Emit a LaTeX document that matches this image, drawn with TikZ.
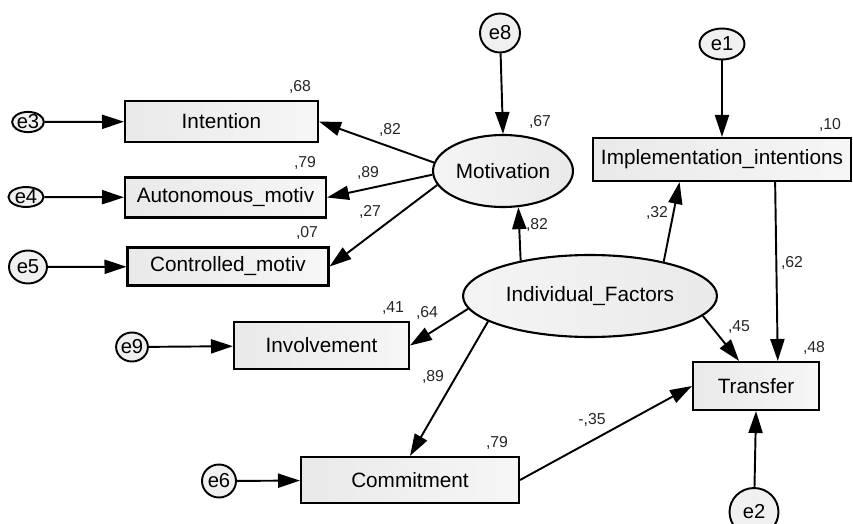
\documentclass[tikz,border=0pt]{standalone}
\usepackage{fontspec}
\setmainfont{Liberation Sans}
\usetikzlibrary{arrows.meta,shapes.geometric}

\begin{document}
\begin{tikzpicture}[x=0.02cm,y=-0.02cm,
        obs/.style={draw,line width=1.2pt,rectangle,inner sep=0pt,left color=gray!17,right color=gray!7,font=\fontsize{11.8}{14}\selectfont},
        lat/.style={draw,line width=1.2pt,ellipse,inner sep=0pt,left color=gray!8,right color=gray!17,font=\fontsize{11.8}{14}\selectfont},
        err/.style={draw,line width=1.1pt,ellipse,inner sep=0pt,fill=gray!12,font=\fontsize{11.5}{13}\selectfont},
        coef/.style={inner sep=0pt,font=\fontsize{9}{11}\selectfont,text=black!85},
        arr/.style={line width=1.1pt,-{Triangle[length=12.5pt,width=8pt]}}]
        \useasboundingbox (0,0) rectangle (853,524);
        % observed
        \node[obs,minimum width=3.86cm,minimum height=0.82cm] (intent) at (221.5,121.5) {Intention};
        \node[obs,minimum width=4.02cm,minimum height=0.80cm] (auto) at (225.5,197.5) {Autonomous\_motiv};
        \node[obs,minimum width=4.02cm,minimum height=0.76cm] (contr) at (228,266.5) {Controlled\_motiv};
        \node[obs,minimum width=5.16cm,minimum height=0.86cm] (impl) at (722,159.5) {Implementation\_intentions};
        \node[obs,minimum width=3.5cm,minimum height=0.94cm] (invol) at (321.5,345.5) {Involvement};
        \node[obs,minimum width=2.52cm,minimum height=0.96cm] (trans) at (756,386) {Transfer};
        \node[obs,minimum width=4.36cm,minimum height=0.92cm] (commit) at (410,480) {Commitment};
        % latent
        \node[lat,minimum width=2.8cm,minimum height=1.44cm] (motiv) at (503,171) {Motivation};
        \node[lat,minimum width=5.08cm,minimum height=1.64cm] (indiv) at (590,296) {Individual\_Factors};
        % errors
        \node[err,minimum width=0.6cm,minimum height=0.4cm] (e3) at (28,122) {e3};
        \node[err,minimum width=0.7cm,minimum height=0.38cm] (e4) at (26,197) {e4};
        \node[err,minimum width=0.76cm,minimum height=0.66cm] (e5) at (28,267) {e5};
        \node[err,minimum width=0.8cm,minimum height=0.78cm] (e8) at (500,33) {e8};
        \node[err,minimum width=0.9cm,minimum height=0.62cm] (e1) at (722,44) {e1};
        \node[err,minimum width=0.62cm,minimum height=0.58cm] (e9) at (132,347) {e9};
        \node[err,minimum width=0.68cm,minimum height=0.66cm] (e6) at (219,481) {e6};
        \node[err,minimum width=0.98cm,minimum height=0.96cm] (e2) at (754,512) {e2};
        % paths
        \draw[arr] (e3) -- (intent);
        \draw[arr] (e4) -- (auto);
        \draw[arr] (e5) -- (contr);
        \draw[arr] (e9) -- (invol);
        \draw[arr] (e6) -- (commit);
        \draw[arr] (e8) -- (motiv.north);
        \draw[arr] (e1) -- (impl);
        \draw[arr] (e2) -- (trans.south);
        \draw[arr] (motiv.173) -- (intent.east); % ,82
        \draw[arr] (motiv.183) -- (auto.east); % ,89
        \draw[arr] (motiv.192) -- (contr.east); % ,27
        \draw[arr] (indiv.153) -- (motiv.293); % ,82
        \draw[arr] (indiv.25) -- (impl.208); % ,32
        \draw[arr] (impl.-23) -- (trans.49); % ,62
        \draw[arr] (indiv.-10) -- (trans.124); % ,45
        \draw[arr] (indiv.186) -- (invol.east); % ,64
        \draw[arr] (indiv.194) -- (commit.north); % ,89
        \draw[arr] (commit.east) -- (trans.west); % -,35
        % estimates
        \node[coef] (r68) at (300,87) {,68};
        \node[coef] (b82a) at (390,130) {,82};
        \node[coef] (r79a) at (305,163) {,79};
        \node[coef] (b89a) at (368,173) {,89};
        \node[coef] (b27) at (370,212) {,27};
        \node[coef] (r07) at (307,233) {,07};
        \node[coef] (r67) at (540,122) {,67};
        \node[coef] (r10) at (830,125) {,10};
        \node[coef] (b32) at (657,213) {,32};
        \node[coef] (b82b) at (537,225) {,82};
        \node[coef] (b62) at (792,263) {,62};
        \node[coef] (r41) at (393,308) {,41};
        \node[coef] (b64) at (427,313) {,64};
        \node[coef] (b45) at (739,327) {,45};
        \node[coef] (r48) at (814,348) {,48};
        \node[coef] (b89b) at (433,377) {,89};
        \node[coef] (b35) at (592,420) {-,35};
        \node[coef] (r79b) at (497,443) {,79};
    \end{tikzpicture}
\end{document}
